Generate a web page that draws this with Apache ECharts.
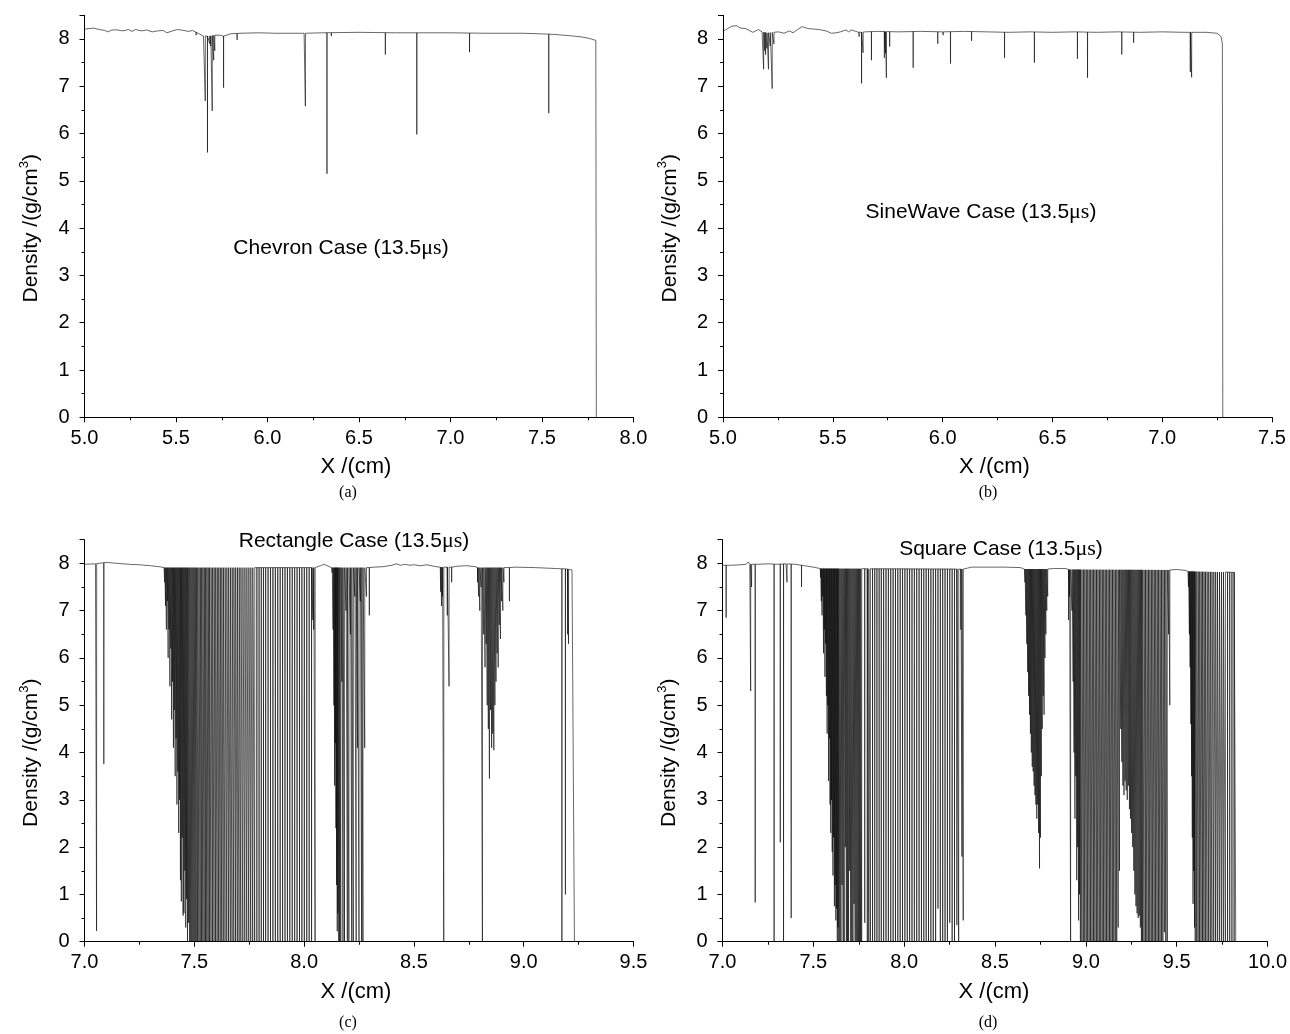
<!DOCTYPE html>
<html><head><meta charset="utf-8">
<script src="https://cdn.jsdelivr.net/npm/echarts@6/dist/echarts.min.js"></script>
<style>html,body{margin:0;padding:0;background:#fff}#c{width:1290px;height:1034px}</style>
</head><body><div id="c"></div>
<script>
// ---------------- DATA ----------------
// (a) Chevron: smooth profile points and spikes [x, minimum density]
const chevronBase = [[5.000,8.21],[5.030,8.22],[5.050,8.23],[5.080,8.20],[5.110,8.18],[5.130,8.15],[5.150,8.19],[5.180,8.19],[5.210,8.17],[5.240,8.20],[5.260,8.16],[5.280,8.20],[5.310,8.17],[5.340,8.19],[5.370,8.15],[5.400,8.17],[5.430,8.18],[5.450,8.13],[5.480,8.17],[5.510,8.20],[5.540,8.18],[5.570,8.16],[5.590,8.18],[5.610,8.14],[5.630,8.10],[5.650,8.06],[5.680,8.06],[5.710,8.08],[5.740,8.08],[5.770,8.05],[5.800,8.11],[5.850,8.12],[5.950,8.13],[6.050,8.12],[6.200,8.12],[6.300,8.13],[6.500,8.14],[6.700,8.13],[7.000,8.13],[7.200,8.12],[7.400,8.12],[7.550,8.10],[7.650,8.07],[7.720,8.04],[7.760,8.01],[7.794,7.97],[7.797,0]];
const chevronSpikes = [[5.610,8.08],[5.660,6.69],[5.672,5.60],[5.684,7.90],[5.690,7.85],[5.698,6.48],[5.706,7.55],[5.712,7.75],[5.760,6.97],[5.834,7.98],[6.207,6.58],[6.325,5.15],[6.349,8.06],[6.644,7.67],[6.816,5.98],[7.104,7.72],[7.537,6.43]];

// (b) SineWave
const sineBase = [[5.000,8.16],[5.011,8.19],[5.040,8.27],[5.061,8.28],[5.080,8.23],[5.103,8.22],[5.136,8.14],[5.161,8.20],[5.178,8.15],[5.200,8.13],[5.230,8.14],[5.253,8.15],[5.278,8.12],[5.302,8.17],[5.319,8.13],[5.340,8.20],[5.361,8.26],[5.386,8.22],[5.436,8.20],[5.469,8.17],[5.494,8.12],[5.515,8.13],[5.535,8.15],[5.560,8.19],[5.572,8.15],[5.585,8.19],[5.618,8.14],[5.650,8.15],[5.700,8.16],[5.800,8.15],[5.900,8.16],[6.000,8.15],[6.100,8.16],[6.200,8.15],[6.300,8.14],[6.400,8.15],[6.500,8.14],[6.600,8.15],[6.700,8.14],[6.800,8.15],[6.900,8.14],[7.000,8.15],[7.100,8.14],[7.200,8.14],[7.250,8.12],[7.268,8.05],[7.274,7.90],[7.276,0]];
const sineSpikes = [[5.185,7.36],[5.190,7.75],[5.194,7.67],[5.200,7.80],[5.207,7.36],[5.215,7.85],[5.224,6.95],[5.232,7.89],[5.620,8.05],[5.631,7.06],[5.638,7.71],[5.676,7.55],[5.735,7.60],[5.740,7.70],[5.744,7.18],[5.759,7.84],[5.866,7.39],[5.978,7.90],[6.003,8.08],[6.036,7.48],[6.132,7.96],[6.282,7.60],[6.418,7.50],[6.614,7.58],[6.660,7.18],[6.816,7.67],[6.870,7.92],[7.128,7.30],[7.134,7.19]];

// (c) Rectangle
const rectBase = [[7.000,7.98],[7.050,7.99],[7.100,8.02],[7.150,8.00],[7.200,7.98],[7.250,7.97],[7.300,7.95],[7.340,7.93],[7.362,7.91],[8.052,7.91],[8.075,7.95],[8.090,7.98],[8.100,7.96],[8.115,7.93],[8.125,7.91],[8.300,7.91],[8.320,7.92],[8.360,7.93],[8.400,7.96],[8.420,7.99],[8.440,7.96],[8.460,7.98],[8.480,7.96],[8.500,7.97],[8.530,7.95],[8.560,7.97],[8.600,7.93],[8.620,7.92],[8.680,7.92],[8.700,7.94],[8.740,7.95],[8.780,7.93],[8.790,7.91],[8.940,7.91],[8.960,7.92],[9.050,7.91],[9.150,7.89],[9.200,7.88],[9.220,7.86],[9.228,7.84],[9.231,0]];
const rectSpikes = [[7.055,0.23],[7.088,3.76],
[7.365,7.60],[7.369,7.10],[7.373,6.60],[7.377,7.20],[7.381,6.00],[7.385,6.60],[7.389,5.40],[7.393,6.20],[7.397,4.70],[7.401,5.50],[7.405,4.10],[7.409,4.90],[7.413,3.50],[7.417,4.30],[7.421,2.90],[7.425,3.60],[7.429,2.30],[7.433,3.00],[7.437,1.30],[7.441,0.85],[7.445,2.20],[7.449,0.55],[7.453,0.60],[7.457,1.50],[7.461,0.30],[7.465,0.90],[7.469,0],[7.474,0.40],[7.479,0],[7.484,0],[7.489,0],[7.494,0],[7.499,0],[7.504,0],[7.509,0],[7.515,0],[7.521,0],[7.527,0],[7.533,0],[7.539,0],[7.545,0],[7.551,0],[7.557,0],[7.563,0],[7.569,0],[7.576,0],[7.583,0],[7.590,0],[7.597,0],[7.604,0],[7.611,0],[7.618,0],[7.625,0],[7.632,0],[7.640,0],[7.648,0],[7.656,0],[7.664,0],[7.672,0],[7.680,0],[7.688,0],[7.696,0],[7.704,0],[7.712,0],[7.721,0],[7.730,0],[7.739,0],[7.748,0],[7.757,0],[7.766,0],[7.775,0],[7.785,0],[7.795,0],[7.805,0],[7.815,0],[7.825,0],[7.836,0],[7.847,0],[7.858,0],[7.869,0],[7.880,0],[7.891,0],[7.902,0],[7.913,0],[7.924,0],[7.935,0],[7.946,0],[7.957,0],[7.968,0],[7.979,0],[7.990,0],[8.001,0],[8.012,0],[8.023,0],[8.034,0],[8.040,6.80],[8.044,6.60],[8.050,0],
[8.128,7.80],[8.132,6.60],[8.136,5.00],[8.139,3.30],[8.142,4.20],[8.145,2.40],[8.148,1.20],[8.151,0.22],[8.154,0.60],[8.158,0],[8.162,0],[8.167,0],[8.172,5.50],[8.177,0],[8.184,0],[8.191,7.00],[8.197,0],[8.204,0],[8.211,6.50],[8.217,0],[8.224,0],[8.231,7.30],[8.237,0],[8.243,4.10],[8.250,0],[8.256,7.20],[8.262,0],[8.268,0],[8.276,4.10],[8.284,7.30],[8.297,6.90],
[8.622,7.40],[8.626,7.10],[8.630,7.30],[8.636,0],[8.652,6.90],[8.660,5.40],[8.672,7.60],
[8.790,7.60],[8.795,7.30],[8.800,7.00],[8.806,7.50],[8.812,0],[8.818,6.50],[8.824,5.80],[8.829,6.30],[8.834,5.00],[8.839,4.50],[8.844,3.45],[8.849,4.90],[8.854,4.10],[8.859,4.40],[8.864,4.05],[8.869,5.00],[8.874,5.50],[8.879,6.10],[8.884,5.80],[8.889,6.70],[8.894,6.40],[8.899,7.20],[8.905,7.00],[8.910,7.60],[8.935,7.20],
[9.174,0],[9.190,1.00],[9.200,6.50],[9.204,6.30]];

// (d) Square
const squareBase = [[7.000,7.96],[7.050,7.96],[7.100,7.97],[7.130,7.98],[7.142,8.03],[7.150,7.98],[7.200,7.98],[7.250,7.99],[7.300,7.98],[7.350,7.99],[7.400,7.98],[7.450,7.95],[7.500,7.92],[7.538,7.89],[8.330,7.88],[8.350,7.90],[8.370,7.92],[8.450,7.92],[8.550,7.92],[8.640,7.91],[8.662,7.88],[8.792,7.88],[8.820,7.89],[8.890,7.89],[8.900,7.87],[9.470,7.86],[9.500,7.87],[9.550,7.85],[9.562,7.83],[9.822,7.81],[9.825,0]];
const squareSpikes = [[7.020,6.85],[7.155,5.30],[7.160,7.50],[7.180,0.83],[7.284,0],[7.318,2.10],[7.336,0],[7.355,7.60],[7.378,0.50],[7.435,7.50],
[7.540,7.70],[7.544,7.20],[7.548,6.90],[7.552,7.30],[7.556,6.10],[7.560,6.60],[7.564,5.60],[7.568,6.30],[7.572,5.20],[7.576,4.40],[7.580,5.00],[7.584,3.40],[7.588,4.30],[7.592,2.90],[7.596,2.30],[7.600,3.00],[7.604,1.90],[7.608,1.40],[7.612,2.20],[7.616,0.75],[7.620,1.20],[7.624,0.45],[7.628,0.70],[7.632,0],[7.636,0.30],[7.640,0],[7.646,0],[7.652,0],[7.658,1.20],[7.664,0],[7.670,0],[7.676,2.00],[7.682,0],[7.688,0],[7.694,0],[7.700,1.50],[7.706,0],[7.712,0],[7.718,0],[7.724,0.80],[7.730,0],[7.736,0],[7.742,0],[7.748,0],[7.754,0],[7.760,0],[7.766,0],[7.783,0.40],[7.797,0],[7.805,0],[7.814,0],[7.826,0],[7.838,0],[7.850,0],[7.862,0],[7.874,0],[7.887,0],[7.900,0],[7.913,0],[7.926,0],[7.939,0],[7.952,0],[7.965,0],[7.978,0],[7.991,0],[8.004,0],[8.017,0],[8.030,0],[8.043,0],[8.056,0],[8.069,0],[8.082,0],[8.095,0],[8.108,0],[8.121,0],[8.134,0],[8.147,0],[8.160,0],[8.173,0],[8.186,0.70],[8.199,0],[8.212,0],[8.225,0],[8.238,0],[8.251,0.40],[8.264,0],[8.277,0],[8.290,0.35],[8.300,0],[8.312,6.60],[8.318,1.80],[8.325,0.45],
[8.665,7.60],[8.670,6.90],[8.675,6.30],[8.680,5.70],[8.685,5.20],[8.690,4.80],[8.695,4.40],[8.700,4.00],[8.705,3.70],[8.710,3.60],[8.715,3.30],[8.720,3.10],[8.725,2.90],[8.730,2.60],[8.735,2.90],[8.740,2.30],[8.745,1.55],[8.750,2.20],[8.755,3.50],[8.760,4.50],[8.765,5.20],[8.770,4.80],[8.775,6.00],[8.780,6.50],[8.785,7.00],[8.790,7.30],
[8.905,6.80],[8.910,7.30],[8.916,0],[8.924,7.00],[8.930,5.50],[8.935,4.00],[8.940,2.60],[8.945,3.50],[8.950,1.30],[8.955,2.00],[8.960,0.45],[8.965,1.00],[8.970,0],[8.978,0],[8.986,0],[8.994,0],[9.002,0],[9.010,0],[9.018,0],[9.026,0],[9.034,0],[9.042,0],[9.050,0],[9.058,0],[9.066,0],[9.074,0],[9.082,0],[9.090,0],[9.098,0],[9.106,0],[9.114,0],[9.122,0],[9.130,0],[9.138,0],[9.146,0],[9.154,0],[9.162,0],[9.170,0],[9.178,0.30],[9.185,1.50],[9.192,4.50],[9.198,3.80],[9.204,3.30],[9.210,3.10],[9.216,3.40],[9.222,3.20],[9.228,3.00],[9.234,3.30],[9.240,2.80],[9.246,2.60],[9.252,2.30],[9.258,2.00],[9.264,1.50],[9.270,1.00],[9.276,0.75],[9.282,0.60],[9.288,0.50],[9.294,0.55],[9.300,0.30],[9.306,0],[9.312,0],[9.320,0],[9.328,0],[9.336,0],[9.344,0],[9.352,0],[9.360,0],[9.368,0],[9.376,0],[9.384,0],[9.392,0],[9.400,0],[9.408,0],[9.416,0],[9.424,0],[9.432,0.20],[9.440,0],[9.448,0],[9.456,6.50],[9.462,5.00],
[9.565,7.50],[9.570,6.50],[9.574,5.80],[9.578,4.60],[9.582,3.50],[9.586,2.20],[9.590,0.80],[9.594,1.50],[9.598,0.30],[9.602,0],[9.610,0],[9.618,0],[9.626,0],[9.634,0],[9.642,0],[9.650,0],[9.658,0],[9.667,0],[9.676,0],[9.685,0],[9.694,0],[9.704,0],[9.714,0],[9.724,0],[9.735,0],[9.746,0],[9.757,0],[9.768,0],[9.780,0],[9.792,0],[9.804,0],[9.816,0]];

// axis ranges and labels
const xRanges = [[5.0, 8.0], [5.0, 7.5], [7.0, 9.5], [7.0, 10.0]];
const yRange = [0, 8.5];
const panelTitles = ['Chevron Case (13.5', 'SineWave Case (13.5', 'Rectangle Case (13.5', 'Square Case (13.5'];
const captions = ['(a)', '(b)', '(c)', '(d)'];
const xName = 'X /(cm)';

// ---------------- BUILD ----------------
function baseAt(base, x) {
  for (let i = 0; i < base.length - 1; i++) {
    const a = base[i], b = base[i + 1];
    if (x >= a[0] && x <= b[0]) {
      const t = (x - a[0]) / ((b[0] - a[0]) || 1);
      return a[1] + t * (b[1] - a[1]);
    }
  }
  return base[base.length - 1][1];
}
function profile(base, spikes) {
  const w = 0.0004;
  const pts = base.map(p => [p[0], p[1]]);
  spikes.forEach(s => {
    const top = baseAt(base, s[0]);
    pts.push([s[0] - w, top], [s[0], s[1]], [s[0] + w, top]);
  });
  pts.sort((a, b) => a[0] - b[0]);
  return pts;
}
const profiles = [profile(chevronBase, chevronSpikes), profile(sineBase, sineSpikes),
                  profile(rectBase, rectSpikes), profile(squareBase, squareSpikes)];

const SANS = 'Liberation Sans, Arial, sans-serif';
const SERIF = 'Liberation Serif, Times New Roman, serif';
const grids = [
  {left: 84.5, top: 15.3, width: 549, height: 402},
  {left: 723, top: 15.3, width: 549, height: 402},
  {left: 84.5, top: 539.7, width: 549, height: 402},
  {left: 722.5, top: 539.7, width: 549, height: 402}
];
const tickCommon = {
  axisLine: {show: true, onZero: false, lineStyle: {color: '#000', width: 1}},
  axisTick: {show: true, inside: false, length: 5, lineStyle: {color: '#000', width: 1}},
  minorTick: {show: true, splitNumber: 2, length: 3, lineStyle: {color: '#000', width: 1}},
  splitLine: {show: false}, minorSplitLine: {show: false}
};
const xAxes = xRanges.map((r, i) => Object.assign({
  type: 'value', gridIndex: i, min: r[0], max: r[1], interval: 0.5,
  axisLabel: {fontSize: 20, fontFamily: SANS, color: '#000', margin: 11, formatter: v => v.toFixed(1)}
}, tickCommon));
const yAxes = grids.map((g, i) => Object.assign({
  type: 'value', gridIndex: i, min: yRange[0], max: yRange[1], interval: 1,
  axisLabel: {fontSize: 20, fontFamily: SANS, color: '#000', margin: 15, showMaxLabel: false, formatter: v => String(v)}
}, tickCommon));
const series = profiles.map((d, i) => ({
  type: 'line', xAxisIndex: i, yAxisIndex: i, data: d, symbol: 'none', silent: true,
  animation: false, clip: true, lineStyle: {color: '#000', width: 0.6}
}));

const graphic = [];
const titlePos = [[341, 248], [981, 212], [354, 541], [1001, 549]];
const capPos = [[348, 493], [988, 493], [348, 1023], [988, 1023]];
grids.forEach((g, i) => {
  const cx = g.left + g.width / 2;
  const axisY = g.top + g.height;
  graphic.push({type: 'text', x: g.left - 53, y: g.top + g.height / 2 + 12, rotation: Math.PI / 2,
    style: {text: '{a|Density /(g/cm}{s|3}{a|)}', align: 'center', verticalAlign: 'middle',
      textAlign: 'center', textVerticalAlign: 'middle', fill: '#000',
      rich: {a: {fontSize: 21, fontFamily: SANS, fill: '#000', lineHeight: 28},
             s: {fontSize: 13, fontFamily: SANS, fill: '#000', verticalAlign: 'top', lineHeight: 14}}}});
  graphic.push({type: 'text', x: cx - 3, y: axisY + 50, style: {text: xName, fontSize: 22, fontFamily: SANS, fill: '#000',
      align: 'center', verticalAlign: 'middle', textAlign: 'center', textVerticalAlign: 'middle'}});
  graphic.push({type: 'text', x: titlePos[i][0], y: titlePos[i][1],
    style: {text: '{a|' + panelTitles[i] + '}{b|μs}{a|)}', align: 'center', verticalAlign: 'middle',
      textAlign: 'center', textVerticalAlign: 'middle', fill: '#000',
      rich: {a: {fontSize: 21, fontFamily: SANS, fill: '#000'}, b: {fontSize: 22, fontFamily: SERIF, fill: '#000'}}}});
  graphic.push({type: 'text', x: capPos[i][0], y: capPos[i][1], style: {text: captions[i], fontSize: 16, fontFamily: SERIF,
      fill: '#000', align: 'center', verticalAlign: 'middle', textAlign: 'center', textVerticalAlign: 'middle'}});
});

const chart = echarts.init(document.getElementById('c'), null, {renderer: 'canvas'});
chart.setOption({
  animation: false, backgroundColor: '#fff',
  grid: grids, xAxis: xAxes, yAxis: yAxes, series: series, graphic: graphic
});
</script></body></html>
